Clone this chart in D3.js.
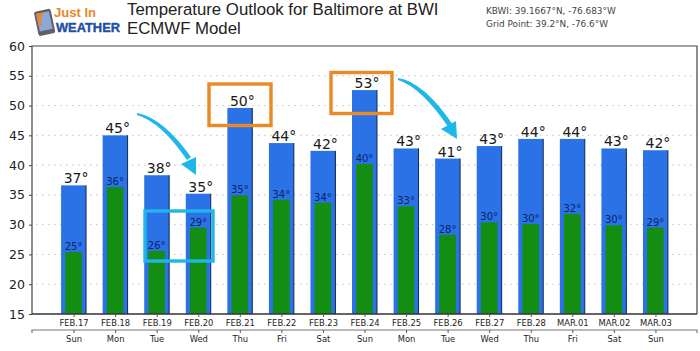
<!DOCTYPE html>
<html>
<head>
<meta charset="utf-8">
<script src="https://cdn.jsdelivr.net/npm/d3@7"></script>
<style>
    html, body { margin: 0; padding: 0; background: #fff; }
    svg { display: block; }
</style>
</head>
<body>
<svg id="chart" width="700" height="351"></svg>
<script>
const dates = ['FEB.17', 'FEB.18', 'FEB.19', 'FEB.20', 'FEB.21', 'FEB.22', 'FEB.23', 'FEB.24', 'FEB.25', 'FEB.26', 'FEB.27', 'FEB.28', 'MAR.01', 'MAR.02', 'MAR.03']
const days = ['Sun', 'Mon', 'Tue', 'Wed', 'Thu', 'Fri', 'Sat', 'Sun', 'Mon', 'Tue', 'Wed', 'Thu', 'Fri', 'Sat', 'Sun']
const highs = [36.6, 45.0, 38.3, 35.2, 49.6, 43.7, 42.4, 52.6, 42.8, 41.1, 43.2, 44.4, 44.4, 42.8, 42.5]
const lows = [25.4, 36.3, 25.6, 29.5, 34.9, 34.2, 33.7, 40.2, 33.1, 28.3, 30.4, 30.1, 31.8, 29.9, 29.5]
const highLabels = [37, 45, 38, 35, 50, 44, 42, 53, 43, 41, 43, 44, 44, 43, 42]
const lowLabels = [25, 36, 26, 29, 35, 34, 34, 40, 33, 28, 30, 30, 32, 30, 29]
const yTicks = [15, 20, 25, 30, 35, 40, 45, 50, 55, 60]

const svg = d3.select('#chart')
const plotLeft = 32
const plotRight = 697
const plotTop = 46
const plotBottom = 314
const axisFont = 'DejaVu Sans, sans-serif'
const narrowFont = 'DejaVu Sans Condensed, DejaVu Sans, sans-serif'
const titleFont = 'Liberation Sans, sans-serif'
const index = d3.range(dates.length)

const x = d3.scaleBand().domain(index).range([plotLeft, plotRight]).paddingInner(0.4).paddingOuter(0.7)
const y = d3.scaleLinear().domain([15, 60]).range([plotBottom, plotTop])

// grid
svg.append('g')
    .selectAll('line')
    .data(yTicks.slice(1, -1))
    .join('line')
    .attr('x1', plotLeft + 4)
    .attr('x2', plotRight)
    .attr('y1', d => y(d))
    .attr('y2', d => y(d))
    .attr('stroke', '#c4c4c4')
    .attr('stroke-width', 1)
    .attr('stroke-dasharray', '1.5 4.5')

// bars
const barGroup = svg.append('g')
barGroup.selectAll('rect.high')
    .data(index)
    .join('rect')
    .attr('class', 'high')
    .attr('x', i => x(i))
    .attr('y', i => y(highs[i]))
    .attr('width', x.bandwidth())
    .attr('height', i => plotBottom - y(highs[i]))
    .attr('fill', '#2b72e6')
barGroup.selectAll('line.edge')
    .data(index)
    .join('line')
    .attr('class', 'edge')
    .attr('x1', i => x(i) + x.bandwidth())
    .attr('x2', i => x(i) + x.bandwidth())
    .attr('y1', i => y(highs[i]))
    .attr('y2', plotBottom)
    .attr('stroke', '#10264f')
    .attr('stroke-width', 1)
const lowWidth = x.step() * 0.4
const lowX = i => x(i) + (x.bandwidth() - lowWidth) / 2
barGroup.selectAll('rect.low')
    .data(index)
    .join('rect')
    .attr('class', 'low')
    .attr('x', lowX)
    .attr('y', i => y(lows[i]))
    .attr('width', lowWidth)
    .attr('height', i => plotBottom - y(lows[i]))
    .attr('fill', '#138e13')

// frame
svg.append('path')
    .attr('d', d3.line()([[plotLeft, plotBottom], [plotLeft, plotTop], [plotRight, plotTop], [plotRight, plotBottom]]))
    .attr('fill', 'none')
    .attr('stroke', '#444')
    .attr('stroke-width', 1.2)

// y axis
const yAxis = svg.append('g')
    .attr('transform', `translate(${plotLeft},0)`)
    .call(d3.axisLeft(y).tickValues(yTicks).tickSize(3).tickPadding(4))
yAxis.select('.domain').remove()
yAxis.selectAll('line').attr('stroke', '#444')
yAxis.selectAll('text')
    .attr('font-family', axisFont)
    .attr('font-size', 12.5)
    .attr('fill', '#222')

// x axes
const tickX = i => x(i) + x.bandwidth() / 2
const dateAxis = svg.append('g')
    .attr('transform', `translate(0,${plotBottom})`)
    .call(d3.axisBottom(d3.scaleOrdinal().domain(index).range(index.map(tickX))).tickSize(3).tickPadding(2).tickFormat(i => dates[i]))
dateAxis.select('.domain').attr('d', `M${plotLeft},0H${plotRight}`).attr('stroke', '#333').attr('stroke-width', 1.4)
const dayAxis = svg.append('g')
    .attr('transform', 'translate(0,330)')
    .call(d3.axisBottom(d3.scaleOrdinal().domain(index).range(index.map(tickX))).tickSize(3).tickPadding(2).tickFormat(i => days[i]))
dayAxis.select('.domain').attr('d', `M${plotLeft},3V0H${plotRight}V3`).attr('stroke', '#777').attr('stroke-width', 1.2)
for (const axis of [dateAxis, dayAxis]) {
    axis.selectAll('.tick line').attr('stroke', '#555')
    axis.selectAll('text')
        .attr('font-family', narrowFont)
        .attr('font-size', 9.3)
        .attr('fill', '#222')
}

// value labels
svg.append('g')
    .selectAll('text')
    .data(index)
    .join('text')
    .attr('x', i => tickX(i) + 2.5)
    .attr('y', i => y(highs[i]) - 2)
    .attr('text-anchor', 'middle')
    .attr('font-family', axisFont)
    .attr('font-size', 14)
    .attr('fill', '#1a1a1a')
    .text(i => highLabels[i] + '°')
svg.append('g')
    .selectAll('text')
    .data(index)
    .join('text')
    .attr('x', tickX)
    .attr('y', i => y(lows[i]) - 2)
    .attr('text-anchor', 'middle')
    .attr('font-family', axisFont)
    .attr('font-size', 10)
    .attr('fill', '#0a2468')
    .text(i => lowLabels[i] + '°')

// titles
svg.append('text').attr('x', 127).attr('y', 15).attr('font-family', titleFont)
    .attr('font-size', 16.8).attr('fill', '#222').text('Temperature Outlook for Baltimore at BWI')
svg.append('text').attr('x', 127).attr('y', 34).attr('font-family', titleFont)
    .attr('font-size', 16.8).attr('fill', '#222').text('ECMWF Model')
svg.append('text').attr('x', 486).attr('y', 14).attr('font-family', axisFont)
    .attr('font-size', 8.9).attr('fill', '#444').text('KBWI: 39.1667°N, -76.683°W')
svg.append('text').attr('x', 486).attr('y', 27).attr('font-family', axisFont)
    .attr('font-size', 8.9).attr('fill', '#444').text('Grid Point: 39.2°N, -76.6°W')

// logo
const logo = svg.append('g')
const phone = logo.append('g').attr('transform', 'rotate(-12 44 22)')
phone.append('rect').attr('x', 36).attr('y', 10).attr('width', 17).attr('height', 25).attr('rx', 2.5).attr('fill', '#5d6168')
phone.append('rect').attr('x', 38).attr('y', 12.5).attr('width', 13).attr('height', 18).attr('fill', '#8fa6d8')
phone.append('path').attr('d', 'M38,12.5H47Q40,18 41,25H38Z').attr('fill', '#e08a3c')
logo.append('text').attr('x', 54).attr('y', 17).attr('font-family', titleFont).attr('font-weight', 'bold')
    .attr('font-size', 12).attr('fill', '#e8862a').attr('textLength', 42).attr('lengthAdjust', 'spacingAndGlyphs').text('Just In')
logo.append('text').attr('x', 56).attr('y', 31.5).attr('font-family', titleFont).attr('font-weight', 'bold')
    .attr('font-size', 13).attr('fill', '#1f4fa8').attr('stroke', '#1f4fa8').attr('stroke-width', 0.4)
    .attr('textLength', 64).attr('lengthAdjust', 'spacingAndGlyphs').text('WEATHER')

// callouts
const boxes = [
    { x: 209, y: 84, w: 62, h: 41.5, c: '#e98a24' },
    { x: 331, y: 72.5, w: 61, h: 41, c: '#e98a24' },
    { x: 145, y: 211, w: 68, h: 50, c: '#1fb6ea' }
]
svg.append('g')
    .selectAll('rect')
    .data(boxes)
    .join('rect')
    .attr('x', d => d.x)
    .attr('y', d => d.y)
    .attr('width', d => d.w)
    .attr('height', d => d.h)
    .attr('fill', 'none')
    .attr('stroke', d => d.c)
    .attr('stroke-width', 3.4)

const arrows = [
    { shaft: 'M137,113Q163,118 191,157L187,160Q161,122 137,115Z', head: 'M181,164L196,157L196,175Z' },
    { shaft: 'M398,78Q424,82 453,125L449,128Q421,87 398,80Z', head: 'M441,129L456,121L457,139Z' }
]
svg.append('g')
    .selectAll('path')
    .data(arrows.flatMap(d => [d.shaft, d.head]))
    .join('path')
    .attr('d', d => d)
    .attr('fill', '#1fb6ea')
</script>
</body>
</html>
